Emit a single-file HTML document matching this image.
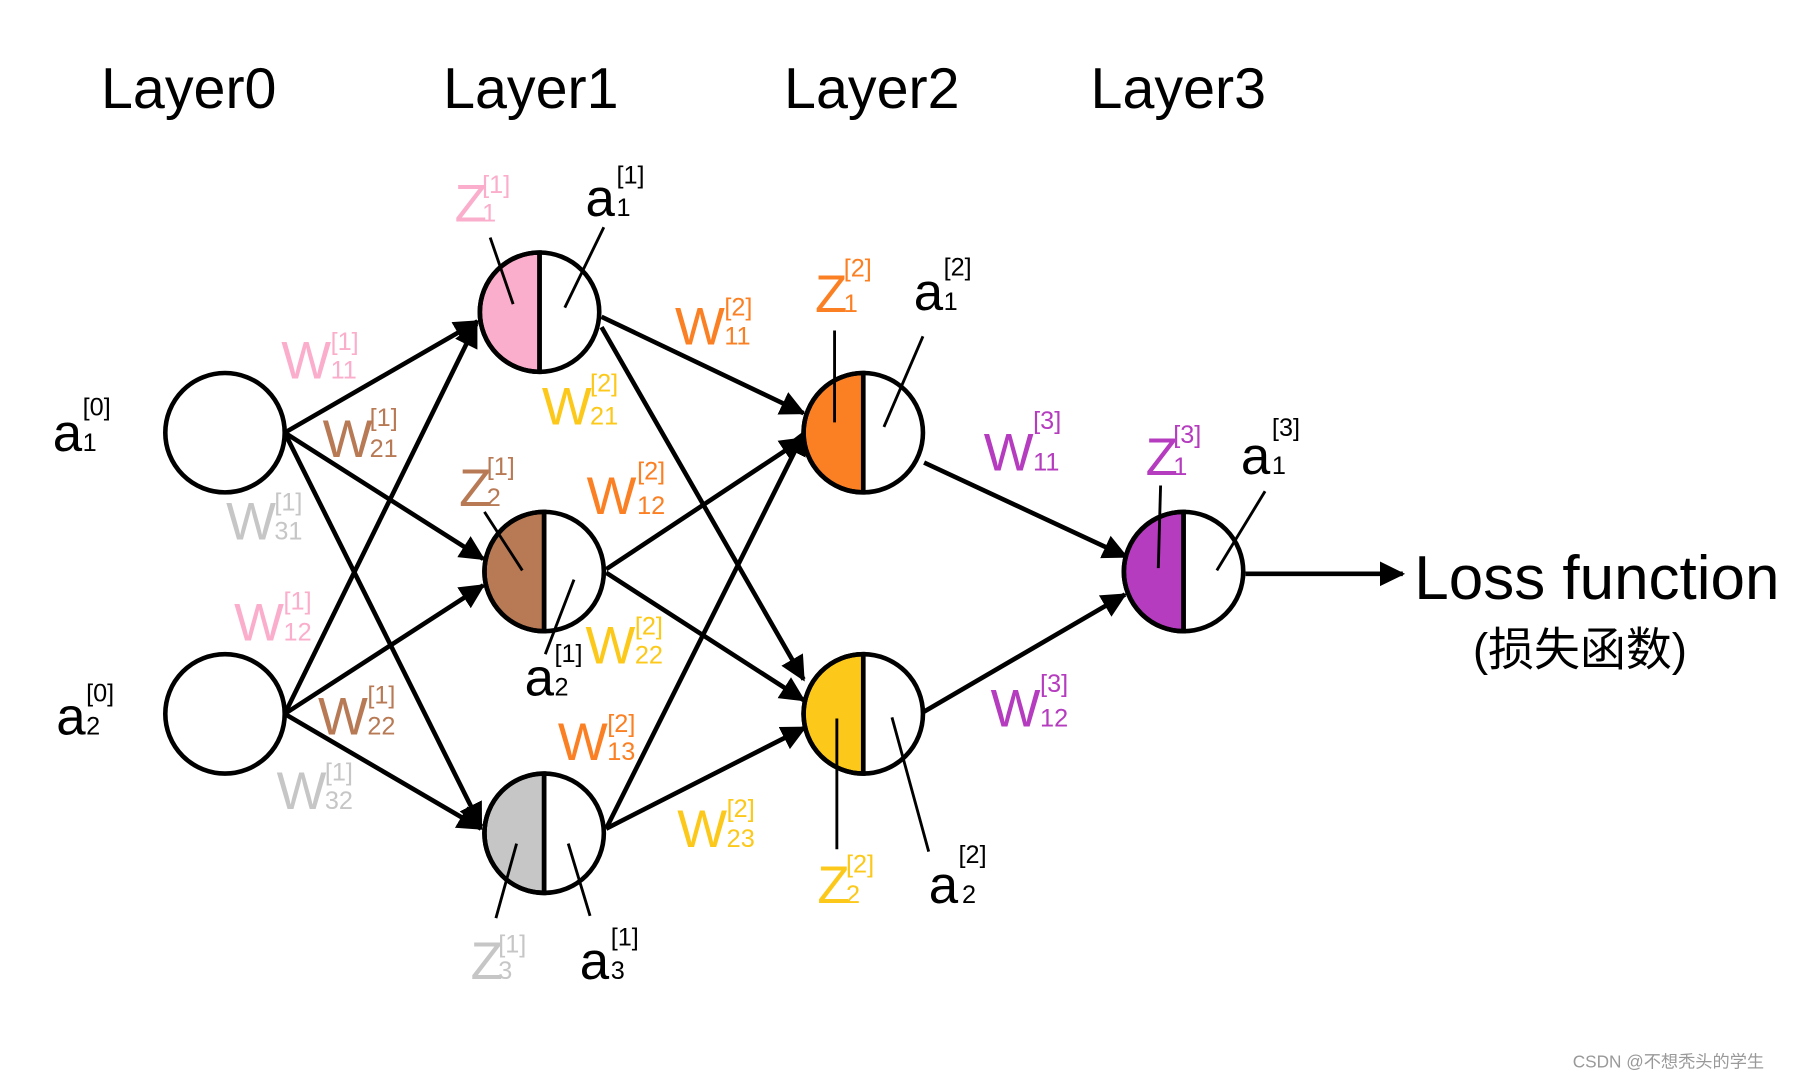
<!DOCTYPE html>
<html><head><meta charset="utf-8"><style>html,body{margin:0;padding:0;background:#fff}svg{display:block}</style></head><body>
<svg width="1800" height="1080" viewBox="0 0 1568 941" preserveAspectRatio="none" xmlns="http://www.w3.org/2000/svg" font-family="Liberation Sans, DejaVu Sans, sans-serif">
<defs><marker id="ah" markerWidth="6" markerHeight="6" refX="5" refY="3" orient="auto" markerUnits="strokeWidth"><path d="M0,0.3 L5.5,3 L0,5.7 Z" fill="#000"/></marker></defs>
<g font-size="50" fill="#000">
<text x="88" y="94">Layer0</text><text x="386" y="94">Layer1</text><text x="683" y="94">Layer2</text><text x="950" y="94">Layer3</text>
<text x="1232" y="522" font-size="54">Loss function</text>
<text x="1283" y="580" font-size="40" font-family="Liberation Sans, Noto Sans CJK SC, sans-serif">(损失函数)</text>
</g>
<g stroke="#000" stroke-width="4" fill="none" marker-end="url(#ah)">
<line x1="248" y1="377" x2="416" y2="280"/><line x1="248" y1="377" x2="421" y2="487"/><line x1="248" y1="377" x2="419" y2="720"/>
<line x1="248" y1="622" x2="415" y2="282"/><line x1="248" y1="622" x2="421" y2="510"/><line x1="248" y1="622" x2="419" y2="722"/>
<line x1="524" y1="276" x2="700" y2="360"/><line x1="524" y1="285" x2="700" y2="592"/>
<line x1="528" y1="496" x2="700" y2="382"/><line x1="528" y1="499" x2="700" y2="610"/>
<line x1="528" y1="722" x2="701" y2="376"/><line x1="528" y1="722" x2="701" y2="634"/>
<line x1="805" y1="403" x2="981" y2="485"/><line x1="805" y1="620" x2="980" y2="518"/>
<line x1="1085" y1="500" x2="1222" y2="500"/>
</g>
<g stroke="#000" stroke-width="4">
<circle cx="196" cy="377" r="52" fill="#fff"/><circle cx="196" cy="622" r="52" fill="#fff"/>
</g>
<g stroke="#000" stroke-width="4">
<path d="M470,220 A52,52 0 0 0 470,324 Z" fill="#fbaecb"/><circle cx="470" cy="272" r="52" fill="none"/><line x1="470" y1="220" x2="470" y2="324"/>
<path d="M474,446 A52,52 0 0 0 474,550 Z" fill="#b87a55"/><circle cx="474" cy="498" r="52" fill="none"/><line x1="474" y1="446" x2="474" y2="550"/>
<path d="M474,674 A52,52 0 0 0 474,778 Z" fill="#c6c6c6"/><circle cx="474" cy="726" r="52" fill="none"/><line x1="474" y1="674" x2="474" y2="778"/>
<path d="M752,325 A52,52 0 0 0 752,429 Z" fill="#fb8024"/><circle cx="752" cy="377" r="52" fill="none"/><line x1="752" y1="325" x2="752" y2="429"/>
<path d="M752,570 A52,52 0 0 0 752,674 Z" fill="#fcc81a"/><circle cx="752" cy="622" r="52" fill="none"/><line x1="752" y1="570" x2="752" y2="674"/>
<path d="M1031,446 A52,52 0 0 0 1031,550 Z" fill="#b53bbf"/><circle cx="1031" cy="498" r="52" fill="none"/><line x1="1031" y1="446" x2="1031" y2="550"/>
</g>
<g stroke="#000" stroke-width="2.5">
<line x1="427" y1="207" x2="447" y2="265"/><line x1="526" y1="198" x2="492" y2="268"/>
<line x1="422" y1="446" x2="455" y2="497"/><line x1="500" y1="505" x2="475" y2="570"/>
<line x1="450" y1="735" x2="432" y2="800"/><line x1="495" y1="735" x2="514" y2="798"/>
<line x1="727" y1="288" x2="727" y2="368"/><line x1="804" y1="293" x2="770" y2="372"/>
<line x1="729" y1="626" x2="729" y2="740"/><line x1="777" y1="625" x2="809" y2="742"/>
<line x1="1011" y1="423" x2="1009" y2="495"/><line x1="1102" y1="428" x2="1060" y2="497"/>
</g>
<g font-size="46">
<g fill="#000">
<text x="46" y="393">a</text><text x="72" y="362" font-size="22">[0]</text><text x="72" y="393" font-size="22">1</text>
<text x="49" y="640">a</text><text x="75" y="611" font-size="22">[0]</text><text x="75" y="640" font-size="22">2</text>
<text x="510" y="188">a</text><text x="537" y="160" font-size="22">[1]</text><text x="537" y="188" font-size="22">1</text>
<text x="457" y="606">a</text><text x="483" y="577" font-size="22">[1]</text><text x="483" y="606" font-size="22">2</text>
<text x="505" y="853">a</text><text x="532" y="824" font-size="22">[1]</text><text x="532" y="853" font-size="22">3</text>
<text x="796" y="270">a</text><text x="822" y="240" font-size="22">[2]</text><text x="822" y="270" font-size="22">1</text>
<text x="809" y="787">a</text><text x="835" y="752" font-size="22">[2]</text><text x="838" y="787" font-size="22">2</text>
<text x="1081" y="413">a</text><text x="1108" y="380" font-size="22">[3]</text><text x="1108" y="413" font-size="22">1</text>
</g>
<g fill="#fbaecb"><text x="396" y="193">Z</text><text x="420" y="168" font-size="22">[1]</text><text x="420" y="193" font-size="22">1</text>
<text x="245" y="330">W</text><text x="288" y="305" font-size="22">[1]</text><text x="288" y="330" font-size="22">11</text>
<text x="204" y="558">W</text><text x="247" y="531" font-size="22">[1]</text><text x="247" y="558" font-size="22">12</text></g>
<g fill="#b87a55"><text x="400" y="441">Z</text><text x="424" y="414" font-size="22">[1]</text><text x="424" y="441" font-size="22">2</text>
<text x="281" y="398">W</text><text x="322" y="371" font-size="22">[1]</text><text x="322" y="398" font-size="22">21</text>
<text x="277" y="640">W</text><text x="320" y="613" font-size="22">[1]</text><text x="320" y="640" font-size="22">22</text></g>
<g fill="#c6c6c6"><text x="410" y="853">Z</text><text x="434" y="830" font-size="22">[1]</text><text x="434" y="853" font-size="22">3</text>
<text x="197" y="470">W</text><text x="239" y="445" font-size="22">[1]</text><text x="239" y="470" font-size="22">31</text>
<text x="241" y="705">W</text><text x="283" y="680" font-size="22">[1]</text><text x="283" y="705" font-size="22">32</text></g>
<g fill="#fb8024"><text x="710" y="272">Z</text><text x="735" y="241" font-size="22">[2]</text><text x="735" y="272" font-size="22">1</text>
<text x="588" y="300">W</text><text x="631" y="275" font-size="22">[2]</text><text x="631" y="300" font-size="22">11</text>
<text x="511" y="448">W</text><text x="555" y="418" font-size="22">[2]</text><text x="555" y="448" font-size="22">12</text>
<text x="486" y="662">W</text><text x="529" y="638" font-size="22">[2]</text><text x="529" y="662" font-size="22">13</text></g>
<g fill="#fcc81a"><text x="712" y="787">Z</text><text x="737" y="760" font-size="22">[2]</text><text x="737" y="787" font-size="22">2</text>
<text x="472" y="370">W</text><text x="514" y="341" font-size="22">[2]</text><text x="514" y="370" font-size="22">21</text>
<text x="510" y="578">W</text><text x="553" y="553" font-size="22">[2]</text><text x="553" y="578" font-size="22">22</text>
<text x="590" y="738">W</text><text x="633" y="712" font-size="22">[2]</text><text x="633" y="738" font-size="22">23</text></g>
<g fill="#b53bbf"><text x="998" y="414">Z</text><text x="1022" y="386" font-size="22">[3]</text><text x="1022" y="414" font-size="22">1</text>
<text x="857" y="410">W</text><text x="900" y="374" font-size="22">[3]</text><text x="900" y="410" font-size="22">11</text>
<text x="863" y="633">W</text><text x="906" y="603" font-size="22">[3]</text><text x="906" y="633" font-size="22">12</text></g>
</g>
<text x="1370" y="930" font-size="15" fill="#999" font-family="Liberation Sans, Noto Sans CJK SC, sans-serif">CSDN @不想秃头的学生</text>
</svg>
</body></html>
